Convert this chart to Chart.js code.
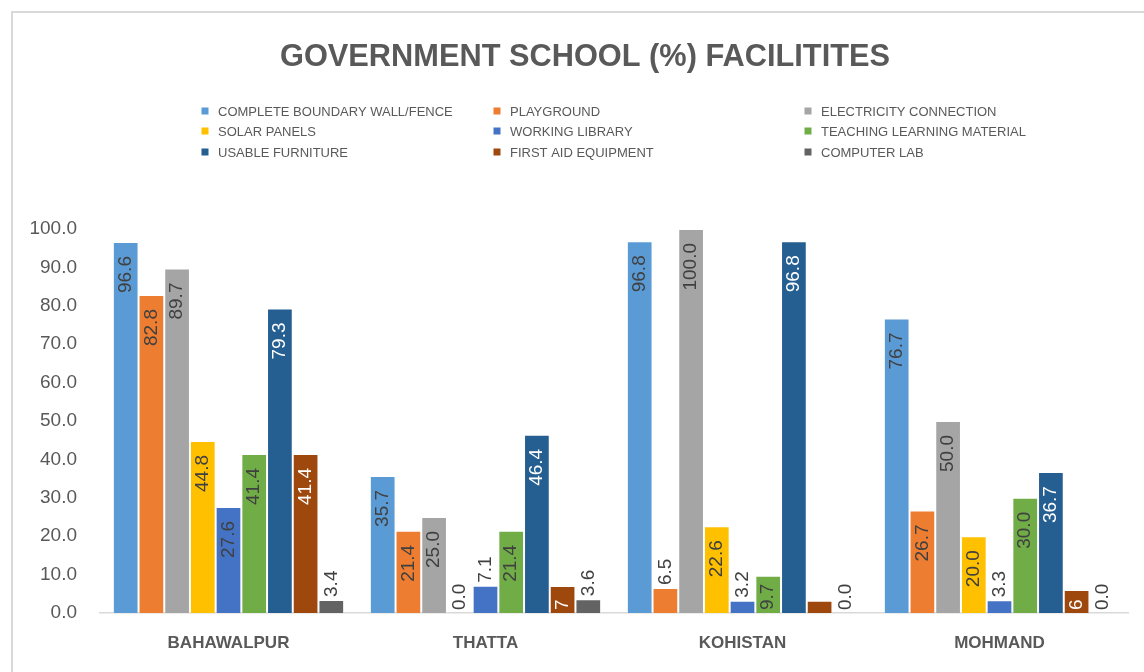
<!DOCTYPE html>
<html lang="en">
<head>
  <meta charset="UTF-8" />
  <title>Government School Facilities</title>
  <style>
    html, body { margin: 0; padding: 0; background: #fff; }
    #wrap { position: relative; width: 1144px; height: 672px; }
  </style>
</head>
<body>
  <div id="wrap">
    <canvas id="myChart" width="1144" height="672"></canvas>
  </div>

  <script src="https://cdn.jsdelivr.net/npm/chart.js@4"></script>
  <script>
    // districts
    const districts = ['BAHAWALPUR', 'THATTA', 'KOHISTAN', 'MOHMAND'];

    // facility names (legend order)
    const facilities = [
      'COMPLETE BOUNDARY WALL/FENCE', 'PLAYGROUND', 'ELECTRICITY CONNECTION',
      'SOLAR PANELS', 'WORKING LIBRARY', 'TEACHING LEARNING MATERIAL',
      'USABLE FURNITURE', 'FIRST AID EQUIPMENT', 'COMPUTER LAB'
    ];

    // percentages per facility, one value per district
    const boundaryWall = [96.6, 35.7, 96.8, 76.7];
    const playground   = [82.8, 21.4, 6.5, 26.7];
    const electricity  = [89.7, 25.0, 100.0, 50.0];
    const solarPanels  = [44.8, 0.0, 22.6, 20.0];
    const library      = [27.6, 7.1, 3.2, 3.3];
    const teaching     = [41.4, 21.4, 9.7, 30.0];
    const furniture    = [79.3, 46.4, 96.8, 36.7];
    const firstAid     = [41.4, 7, 3.2, 6];
    const computerLab  = [3.4, 3.6, 0.0, 0.0];

    // first aid labels were typed in by hand in the source sheet
    const firstAidLabels = ['41.4', '7', '', '6'];

    const yTicks = [0, 10, 20, 30, 40, 50, 60, 70, 80, 90, 100];

    const colors = ['#5B9BD5', '#ED7D31', '#A5A5A5', '#FFC000', '#4472C4',
                    '#70AD47', '#255E91', '#9E480E', '#636363'];
    const labelColors = ['#404040', '#404040', '#404040', '#404040', '#404040',
                         '#404040', '#ffffff', '#ffffff', '#404040'];

    const series = [boundaryWall, playground, electricity, solarPanels, library,
                    teaching, furniture, firstAid, computerLab];

    const GREY = '#595959';

    // frame + title + 3x3 legend
    const decorPlugin = {
      id: 'decor',
      beforeDraw(chart) {
        const ctx = chart.ctx;
        ctx.save();
        ctx.strokeStyle = '#d9d9d9';
        ctx.lineWidth = 2;
        ctx.beginPath();
        ctx.moveTo(12, 672);
        ctx.lineTo(12, 12);
        ctx.lineTo(1144, 12);
        ctx.stroke();

        // title squeezed a bit to look like a condensed face
        const title = 'GOVERNMENT SCHOOL (%) FACILITITES';
        ctx.fillStyle = GREY;
        ctx.font = 'bold 31px "Liberation Sans", sans-serif';
        ctx.textAlign = 'center';
        ctx.textBaseline = 'middle';
        const sx = 610 / ctx.measureText(title).width;
        ctx.save();
        ctx.translate(585, 57);
        ctx.scale(sx, 1);
        ctx.fillText(title, 0, 0);
        ctx.restore();

        const colX = [205, 497, 808];
        const rowY = [111, 131, 152];
        ctx.font = '13px "Liberation Sans", sans-serif';
        ctx.textAlign = 'left';
        chart.data.datasets.forEach((ds, i) => {
          const x = colX[i % 3], y = rowY[Math.floor(i / 3)];
          ctx.fillStyle = ds.backgroundColor;
          ctx.fillRect(x - 3.5, y - 3.5, 7, 7);
          ctx.fillStyle = GREY;
          ctx.fillText(ds.label, x + 13, y + 1);
        });
        ctx.restore();
      }
    };

    // vertical value labels at the end of each bar
    const valueLabels = {
      id: 'valueLabels',
      afterDatasetsDraw(chart) {
        const ctx = chart.ctx;
        ctx.save();
        ctx.font = '19px "Liberation Sans", sans-serif';
        ctx.textBaseline = 'middle';
        chart.data.datasets.forEach((ds, di) => {
          const meta = chart.getDatasetMeta(di);
          meta.data.forEach((bar, i) => {
            const text = di === 7 ? firstAidLabels[i] : ds.data[i].toFixed(1);
            if (!text) return;
            const len = ctx.measureText(text).width;
            const h = bar.base - bar.y;
            ctx.save();
            ctx.translate(bar.x, bar.y);
            ctx.rotate(-Math.PI / 2);
            if (h >= len + 6) {
              const gap = Math.min(14, h - len - 3);
              ctx.fillStyle = labelColors[di];
              ctx.textAlign = 'right';
              ctx.fillText(text, -gap, 0);
            } else {
              ctx.fillStyle = '#404040';
              ctx.textAlign = 'left';
              ctx.fillText(text, 3, 0);
            }
            ctx.restore();
          });
        });
        ctx.restore();
      }
    };

    const data = {
      labels: districts,
      datasets: series.map((values, i) => ({
        label: facilities[i],
        data: values,
        backgroundColor: colors[i],
        borderColor: 'rgba(255,255,255,0.35)',
        borderWidth: 1,
        categoryPercentage: 0.9,
        barPercentage: 1.0
      }))
    };

    var context = document.getElementById('myChart').getContext('2d');
    var myChart = new Chart(context, {
      type: 'bar',
      data: data,
      plugins: [decorPlugin, valueLabels],
      options: {
        responsive: false,
        animation: false,
        layout: { padding: { top: 229, right: 16, bottom: 0, left: 0 } },
        plugins: {
          legend: { display: false },
          title: { display: false },
          tooltip: { enabled: false }
        },
        scales: {
          x: {
            grid: { display: false, drawTicks: false },
            border: { color: '#d9d9d9', width: 1.5 },
            ticks: {
              color: GREY,
              padding: 20,
              font: { family: '"Liberation Sans", sans-serif', size: 17, weight: 'bold' }
            },
            afterFit: (s) => { s.height = 59; }
          },
          y: {
            min: 0,
            max: 100,
            afterBuildTicks: (s) => { s.ticks = yTicks.map(v => ({ value: v })); },
            grid: { display: false, drawTicks: false },
            border: { display: false },
            ticks: {
              color: GREY,
              padding: 23,
              font: { family: '"Liberation Sans", sans-serif', size: 19 },
              callback: (v) => Number(v).toFixed(1)
            },
            afterFit: (s) => { s.width = 100; }
          }
        }
      }
    });
  </script>
</body>
</html>
